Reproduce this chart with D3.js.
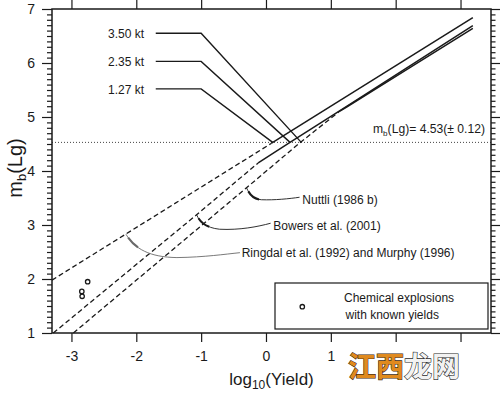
<!DOCTYPE html>
<html>
<head>
<meta charset="utf-8">
<script src="https://cdn.jsdelivr.net/npm/d3@7"></script>
<style>
  html, body { margin: 0; padding: 0; background: #fff; }
  svg { display: block; font-family: "Liberation Sans", Arial, sans-serif; }
</style>
</head>
<body>
<svg id="chart" width="500" height="394"></svg>
<script>
// ---------------- data ----------------
const xTicks = [-3, -2, -1, 0, 1, 2, 3];
const xTickLabels = ["-3", "-2", "-1", "0", "1", "", ""]; // 2 and 3 are hidden under the watermark
const yTicks = [1, 2, 3, 4, 5, 6, 7];

// Ringdal et al. (1992) and Murphy (1996)
const ringdalDashed = [[-3.30, 1.98], [0.08, 4.51]];
const ringdalSolid  = [[0.08, 4.51], [3.19, 6.84]];
// Bowers et al. (2001)
const bowersDashed = [[-3.28, 1.00], [-1.07, 3.19], [-0.12, 4.15]];
const bowersSolid  = [[-0.12, 4.15], [0.37, 4.53], [1.25, 5.20], [3.19, 6.69]];
// Nuttli (1986 b)
const nuttliDashed = [[-2.97, 1.00], [-0.30, 3.69], [0.53, 4.53], [1.14, 5.11]];
const nuttliSolid  = [[1.14, 5.11], [1.25, 5.19], [2.20, 5.90], [3.19, 6.64]];

// chemical explosions with known yields
const chemLogYield = [-2.75, -2.84, -2.835];
const chemMb       = [1.95, 1.77, 1.68];

// observed magnitude and yields
const mbObserved = 4.53;
const yieldLabels = ["3.50 kt", "2.35 kt", "1.27 kt"];
const yieldKt     = [3.50, 2.35, 1.27];
const yieldLabelMb = [6.55, 6.03, 5.52];

// ---------------- layout ----------------
const svg = d3.select("#chart");
const L = 52, R = 491, T = 9, B = 333;
const x = d3.scaleLinear().domain([-3.3, 3.47]).range([L, R]);
const y = d3.scaleLinear().domain([1, 7]).range([B, T]);
const ink = "#1a1a1a";

// dotted reference level
svg.append("line")
  .attr("x1", x(-3.3)).attr("x2", x(3.47))
  .attr("y1", y(mbObserved)).attr("y2", y(mbObserved))
  .attr("stroke", "#444").attr("stroke-width", 1)
  .attr("stroke-dasharray", "1,2");

const line = d3.line().x(d => x(d[0])).y(d => y(d[1]));
const dashedSets = [ringdalDashed, bowersDashed, nuttliDashed];
const solidSets = [ringdalSolid, bowersSolid, nuttliSolid];
dashedSets.forEach(s => svg.append("path").attr("d", line(s))
  .attr("fill", "none").attr("stroke", ink).attr("stroke-width", 1.3)
  .attr("stroke-dasharray", "5,3"));
solidSets.forEach(s => svg.append("path").attr("d", line(s))
  .attr("fill", "none").attr("stroke", ink).attr("stroke-width", 1.5));

// yield annotations
yieldLabels.forEach((lab, i) => {
  const yy = y(yieldLabelMb[i]);
  svg.append("path")
    .attr("d", `M${x(-1.70)},${yy} L${x(-1.0)},${yy} L${x(Math.log10(yieldKt[i]))},${y(mbObserved)}`)
    .attr("fill", "none").attr("stroke", ink).attr("stroke-width", 1.4);
  svg.append("text").attr("x", x(-1.88)).attr("y", yy + 5)
    .attr("text-anchor", "end").attr("font-size", 12).attr("fill", ink).text(lab);
});

// mb label
const mbText = svg.append("text").attr("x", 485).attr("y", y(mbObserved) - 9)
  .attr("text-anchor", "end").attr("font-size", 12).attr("fill", ink)
  .attr("textLength", 112).attr("lengthAdjust", "spacingAndGlyphs");
mbText.append("tspan").text("m");
mbText.append("tspan").attr("font-size", 8).attr("dy", 3).text("b");
mbText.append("tspan").attr("dy", -3).text("(Lg)= 4.53(\u00B1 0.12)");

// model leaders
function leader(tip, d, color, label, lx, ly) {
  const p = `M${tip[0]},${tip[1]} ` + d;
  svg.append("path").attr("d", p).attr("fill", "none")
    .attr("stroke", color).attr("stroke-width", 0.9);
  svg.append("path").attr("d", p).attr("fill", "none")
    .attr("stroke", color).attr("stroke-width", 2.1)
    .attr("stroke-dasharray", "0,4,14,2000");
  svg.append("text").attr("x", lx).attr("y", ly).attr("font-size", 12)
    .attr("fill", ink).text(label);
}
{
  const t = [x(-2.16), y(2.83)];
  leader(t, `C${t[0]+9},${t[1]+15} ${t[0]+24},${t[1]+23} ${t[0]+51},${t[1]+23.4} C${t[0]+79},${t[1]+23} ${t[0]+99},${t[1]+20} ${t[0]+114},${t[1]+18.5}`,
    "#6a6a6a", "Ringdal et al. (1992) and Murphy (1996)", 241.7, 257);
}
{
  const t = [x(-1.07), y(3.19)];
  leader(t, `C${t[0]+3},${t[1]+7} ${t[0]+9},${t[1]+13} ${t[0]+23},${t[1]+14.5} C${t[0]+43},${t[1]+15.5} ${t[0]+61},${t[1]+12} ${t[0]+74},${t[1]+8.5}`,
    ink, "Bowers et al. (2001)", 273.3, 229.5);
}
{
  const t = [x(-0.30), y(3.69)];
  leader(t, `C${t[0]+3},${t[1]+7} ${t[0]+7},${t[1]+11.5} ${t[0]+15},${t[1]+12} C${t[0]+28},${t[1]+12.5} ${t[0]+43},${t[1]+11} ${t[0]+53},${t[1]+9.5}`,
    ink, "Nuttli (1986 b)", 302.3, 204);
}

// chemical explosions
chemLogYield.forEach((lx, i) => {
  svg.append("circle").attr("cx", x(lx)).attr("cy", y(chemMb[i])).attr("r", 2.2)
    .attr("fill", "none").attr("stroke", ink).attr("stroke-width", 1.3);
});

// legend
svg.append("rect").attr("x", 275).attr("y", 283).attr("width", 213).attr("height", 46)
  .attr("fill", "#fff").attr("stroke", ink).attr("stroke-width", 1.2);
svg.append("circle").attr("cx", 302.3).attr("cy", 306.7).attr("r", 2.2)
  .attr("fill", "none").attr("stroke", ink).attr("stroke-width", 1.3);
svg.append("text").attr("x", 344).attr("y", 302).attr("font-size", 12).attr("fill", ink).text("Chemical explosions");
svg.append("text").attr("x", 345.5).attr("y", 319).attr("font-size", 12).attr("fill", ink).text("with known yields");

// axes
const minor = d3.range(10, 71).map(v => v / 10).filter(v => Math.abs(v - Math.round(v)) > 1e-6);

const gB = svg.append("g").attr("transform", `translate(0,${B})`)
  .call(d3.axisBottom(x).tickValues(xTicks).tickFormat((d, i) => xTickLabels[i]).tickSize(9).tickPadding(9));
const gT = svg.append("g").attr("transform", `translate(0,${T})`)
  .call(d3.axisTop(x).tickValues(xTicks).tickFormat("").tickSize(10));
const gL = svg.append("g").attr("transform", `translate(${L},0)`)
  .call(d3.axisLeft(y).tickValues(yTicks).tickFormat(d => String(d)).tickSize(10).tickPadding(7));
const gLm = svg.append("g").attr("transform", `translate(${L},0)`)
  .call(d3.axisLeft(y).tickValues(minor).tickFormat("").tickSize(5));
const gR = svg.append("g").attr("transform", `translate(${R},0)`)
  .call(d3.axisRight(y).tickValues(yTicks).tickFormat("").tickSize(9));
const gRm = svg.append("g").attr("transform", `translate(${R},0)`)
  .call(d3.axisRight(y).tickValues(minor).tickFormat("").tickSize(4.5));
[gB, gT, gL, gLm, gR, gRm].forEach(g => {
  g.select(".domain").remove();
  g.selectAll("line").attr("stroke", ink).attr("stroke-width", 1.2);
  g.selectAll("text").attr("font-size", 14).attr("fill", ink)
    .attr("font-family", "\"Liberation Sans\", Arial, sans-serif");
  g.selectAll("text").filter(function () { return this.textContent === ""; }).remove();
});

// frame
svg.append("rect").attr("x", L).attr("y", T).attr("width", R - L).attr("height", B - T)
  .attr("fill", "none").attr("stroke", ink).attr("stroke-width", 1.5);

// axis titles
const xt = svg.append("text").attr("x", (L + R) / 2).attr("y", 385)
  .attr("text-anchor", "middle").attr("font-size", 17).attr("fill", ink);
xt.append("tspan").text("log");
xt.append("tspan").attr("font-size", 12).attr("dy", 4).text("10");
xt.append("tspan").attr("dy", -4).text("(Yield)");

const yt = svg.append("text").attr("transform", "translate(21.5,168) rotate(-90)")
  .attr("text-anchor", "middle").attr("font-size", 20).attr("fill", ink);
yt.append("tspan").text("m");
yt.append("tspan").attr("font-size", 13).attr("dy", 4).text("b");
yt.append("tspan").attr("dy", -4).text("(Lg)");

// watermark
const wm = svg.append("text").attr("x", 348).attr("y", 377)
  .attr("font-size", 28).attr("font-weight", "bold")
  .attr("font-family", "\"Noto Sans CJK SC\", sans-serif")
  .attr("stroke-width", 1.2).attr("paint-order", "stroke");
wm.append("tspan").attr("fill", "#e08a1e").attr("stroke", "#3b2a12").text("江西");
wm.append("tspan").attr("fill", "#f2f2f2").attr("stroke", "#2b2b2b").text("龙网");
</script>
</body>
</html>
